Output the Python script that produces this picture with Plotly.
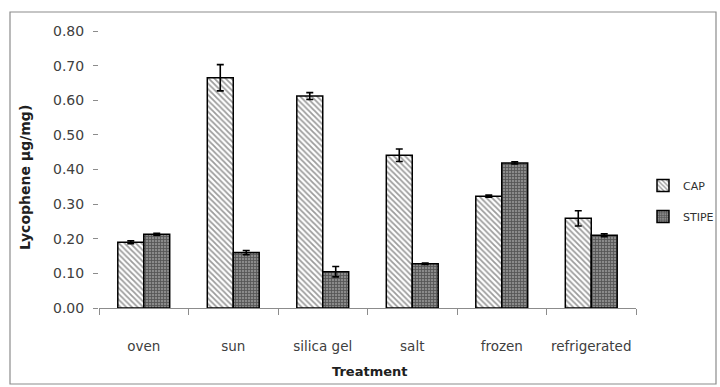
import plotly.graph_objects as go

categories = ["oven", "sun", "silica gel", "salt", "frozen", "refrigerated"]
cap_values = [0.19, 0.665, 0.612, 0.441, 0.323, 0.259]
cap_errors = [0.004, 0.038, 0.010, 0.018, 0.003, 0.022]
stipe_values = [0.213, 0.160, 0.105, 0.128, 0.419, 0.210]
stipe_errors = [0.003, 0.006, 0.015, 0.002, 0.003, 0.004]
y_ticks = [0.0, 0.1, 0.2, 0.3, 0.4, 0.5, 0.6, 0.7, 0.8]
y_tick_labels = ["0.00", "0.10", "0.20", "0.30", "0.40", "0.50", "0.60", "0.70", "0.80"]

FONT = "'DejaVu Sans', sans-serif"
TXT = "#404040"

fig = go.Figure()
fig.add_trace(go.Bar(
    name="CAP", x=categories, y=cap_values, legendgroup="a",
    error_y=dict(type="data", array=cap_errors, color="black", thickness=1.6, width=3.5),
    marker=dict(color="white", line=dict(color="black", width=1.5),
                pattern=dict(shape="\\", fgcolor="#3a3a3a", bgcolor="white", size=4, solidity=0.45)),
))
fig.add_trace(go.Bar(
    name="STIPE", x=categories, y=stipe_values, legendgroup="b",
    error_y=dict(type="data", array=stipe_errors, color="black", thickness=1.6, width=3.5),
    marker=dict(color="#888888", line=dict(color="black", width=1.5),
                pattern=dict(shape="+", fgcolor="#1a1a1a", bgcolor="#8a8a8a", size=3, solidity=0.45)),
))

W, H = 720, 387
L, R, T, B = 99, 84, 31, 79
pw, ph = W - L - R, H - T - B

def px(x):
    return (x - L) / pw

def py(y):
    return (H - B - y) / ph

fig.add_shape(type="rect", xref="paper", yref="paper",
              x0=px(10), x1=px(716), y0=py(384), y1=py(12),
              line=dict(color="#8c8c8c", width=1.2), fillcolor="rgba(0,0,0,0)", layer="below")

fig.add_annotation(xref="paper", yref="paper", x=px(25), y=py(178),
                   text="<b>Lycophene μg/mg)</b>", textangle=-90, showarrow=False,
                   font=dict(size=14, color="#202020", family=FONT),
                   xanchor="center", yanchor="middle")
fig.add_annotation(xref="paper", yref="paper", x=px(370), y=py(371),
                   text="<b>Treatment</b>", showarrow=False,
                   font=dict(size=13, color="#202020", family=FONT),
                   xanchor="center", yanchor="middle")

fig.update_layout(
    width=W, height=H,
    margin=dict(l=L, r=R, t=T, b=B, autoexpand=False),
    paper_bgcolor="white", plot_bgcolor="white",
    barmode="group", bargap=0.42, bargroupgap=0,
    font=dict(family=FONT, color=TXT, size=12),
    showlegend=True,
    legend=dict(x=px(643), y=py(171), xanchor="left", yanchor="top",
                font=dict(size=11, color="#303030"), bgcolor="rgba(0,0,0,0)",
                itemwidth=30, tracegroupgap=12),
    xaxis=dict(
        showline=True, linecolor="#8c8c8c", linewidth=1.2,
        ticks="outside", tickson="boundaries", ticklen=6, tickcolor="#8c8c8c",
        tickfont=dict(size=13.5, color=TXT), ticklabelstandoff=26, tickangle=0,
        showgrid=False, automargin=False,
    ),
    yaxis=dict(
        range=[0, 0.8], tickvals=y_ticks, ticktext=y_tick_labels,
        showline=False, ticks="outside", ticklen=5, tickcolor="#8c8c8c",
        tickfont=dict(size=14, color=TXT), ticklabelstandoff=6,
        showgrid=False, zeroline=False, automargin=False,
    ),
)

fig.write_html("out.html", config={"displayModeBar": False},
               post_script="document.body.style.margin='0';")
